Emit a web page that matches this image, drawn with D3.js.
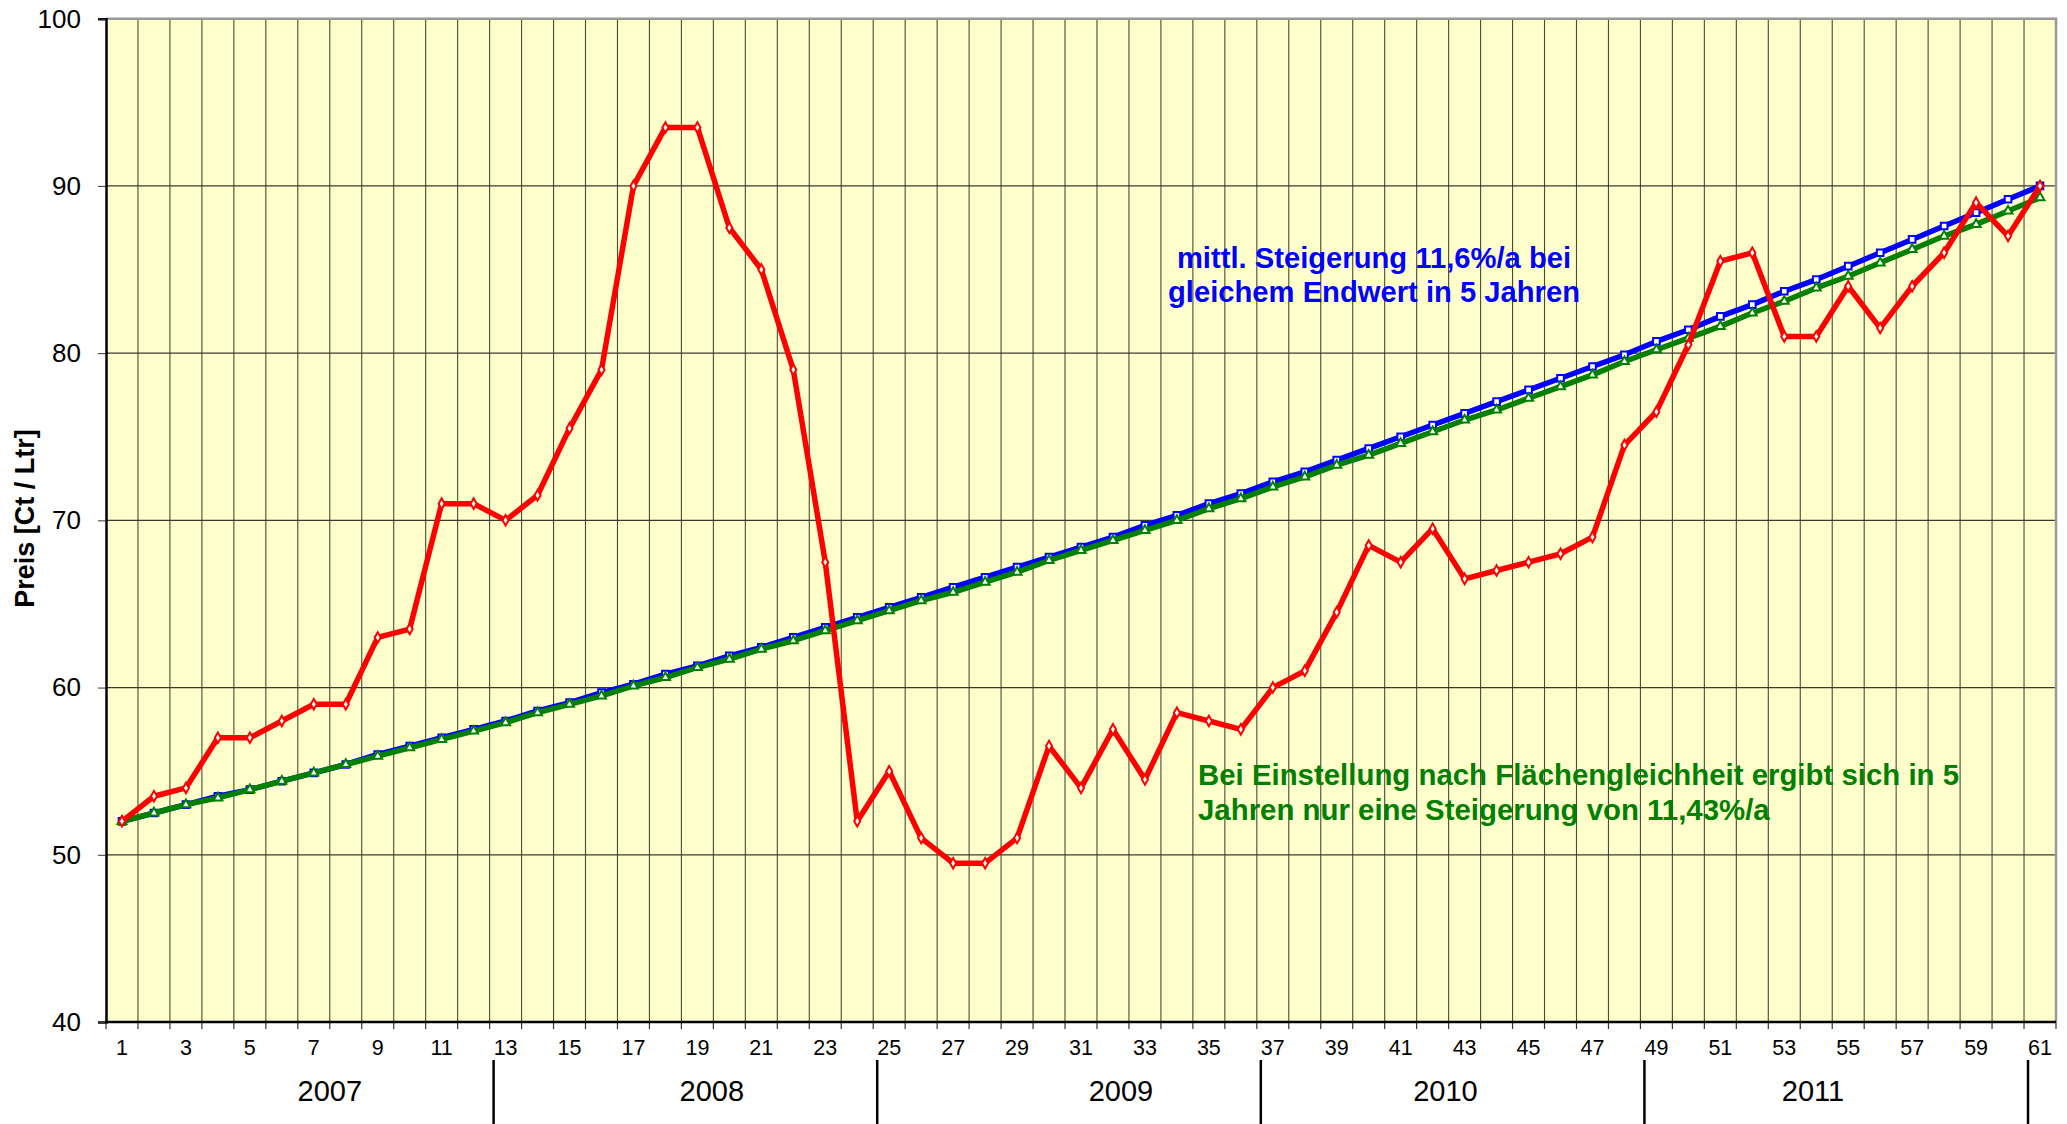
<!DOCTYPE html>
<html>
<head>
<meta charset="utf-8">
<script src="https://cdn.jsdelivr.net/npm/d3@7"></script>
<style>
  body { margin: 0; background: #fff; }
  text { font-family: "Liberation Sans", Arial, sans-serif; }
</style>
</head>
<body>
<svg width="2067" height="1124"></svg>
<script>
// Monate 1..61 (Jan 2007 .. Jan 2012)
const months = d3.range(1, 62);

// Heizoelpreis real (Ct / Ltr)
const preis = [
  52, 53.5, 54, 57, 57, 58, 59, 59, 63, 63.5, 71, 71,
  70, 71.5, 75.5, 79, 90, 93.5, 93.5, 87.5, 85, 79, 67.5, 52,
  55, 51, 49.5, 49.5, 51, 56.5, 54, 57.5, 54.5, 58.5, 58, 57.5,
  60, 61, 64.5, 68.5, 67.5, 69.5, 66.5, 67, 67.5, 68, 69, 74.5,
  76.5, 80.5, 85.5, 86, 81, 81, 84, 81.5, 84, 86, 89, 87,
  90
];

// mittlere Steigerung 11,6 %/a
const steigBlau = [
  52.0, 52.5, 53.0, 53.5, 53.9, 54.4, 54.9, 55.4, 56.0, 56.5, 57.0, 57.5,
  58.0, 58.6, 59.1, 59.7, 60.2, 60.8, 61.3, 61.9, 62.4, 63.0, 63.6, 64.2,
  64.8, 65.4, 66.0, 66.6, 67.2, 67.8, 68.4, 69.0, 69.7, 70.3, 71.0, 71.6,
  72.3, 72.9, 73.6, 74.3, 75.0, 75.7, 76.4, 77.1, 77.8, 78.5, 79.2, 79.9,
  80.7, 81.4, 82.2, 82.9, 83.7, 84.4, 85.2, 86.0, 86.8, 87.6, 88.4, 89.2,
  90.0
];

// Flaechengleichheit 11,43 %/a
const steigGruen = [
  52.0, 52.5, 53.0, 53.4, 53.9, 54.4, 54.9, 55.4, 55.9, 56.4, 56.9, 57.4,
  57.9, 58.5, 59.0, 59.5, 60.1, 60.6, 61.2, 61.7, 62.3, 62.8, 63.4, 64.0,
  64.6, 65.2, 65.7, 66.3, 66.9, 67.6, 68.2, 68.8, 69.4, 70.0, 70.7, 71.3,
  72.0, 72.6, 73.3, 73.9, 74.6, 75.3, 76.0, 76.6, 77.3, 78.0, 78.7, 79.5,
  80.2, 80.9, 81.6, 82.4, 83.1, 83.9, 84.6, 85.4, 86.2, 87.0, 87.7, 88.5,
  89.3
];

const yTicks = [40, 50, 60, 70, 80, 90, 100];
const xTickLabels = months.filter(m => m % 2 === 1);
const years = ['2007', '2008', '2009', '2010', '2011'];
const yearStart = [13, 25, 37, 49, 61]; // Trennstriche vor diesen Monaten

const textBlau = ['mittl. Steigerung 11,6%/a bei', 'gleichem Endwert in 5 Jahren'];
const textGruen = ['Bei Einstellung nach Flächengleichheit ergibt sich in 5',
  'Jahren nur eine Steigerung von 11,43%/a'];

const svg = d3.select('svg');
const pL = 106, pR = 2056, pT = 18.7, pB = 1022;

const x = d3.scaleBand().domain(months).range([pL, pR]);
const y = d3.scaleLinear().domain([40, 100]).range([pB, pT]);
const cx = m => x(m) + x.bandwidth() / 2;

// Hintergrund
svg.append('rect')
  .attr('x', pL).attr('y', pT)
  .attr('width', pR - pL).attr('height', pB - pT)
  .attr('fill', '#ffffcc');

// vertikale Gitterlinien an den Kategoriegrenzen
svg.append('g').selectAll('line')
  .data(months.slice(1))
  .join('line')
  .attr('x1', d => x(d)).attr('x2', d => x(d))
  .attr('y1', pT).attr('y2', pB)
  .attr('stroke', '#4a4a3a').attr('stroke-width', 1.1);

// horizontale Gitterlinien
svg.append('g').selectAll('line')
  .data(yTicks.slice(1, -1))
  .join('line')
  .attr('x1', pL).attr('x2', pR)
  .attr('y1', d => y(d)).attr('y2', d => y(d))
  .attr('stroke', '#3a3a30').attr('stroke-width', 1.2);

// Rahmen oben / rechts
svg.append('path')
  .attr('d', `M${pL},${pT}H${pR}V${pB}`)
  .attr('fill', 'none').attr('stroke', '#999').attr('stroke-width', 2.5);

// y-Achse
const yAxis = svg.append('g')
  .attr('transform', `translate(${pL},0)`)
  .call(d3.axisLeft(y).tickValues(yTicks).tickSize(8).tickPadding(17));
yAxis.select('.domain').attr('stroke', '#000').attr('stroke-width', 2.5);
yAxis.selectAll('.tick line').attr('stroke', '#333');
yAxis.selectAll('text')
  .attr('font-size', 26).attr('fill', '#000')
  .style('font-family', '"Liberation Sans", Arial, sans-serif');

// x-Achse
svg.append('g').selectAll('line')
  .data(months.concat([62]))
  .join('line')
  .attr('x1', d => d === 62 ? pR : x(d))
  .attr('x2', d => d === 62 ? pR : x(d))
  .attr('y1', pB).attr('y2', pB + 7)
  .attr('stroke', '#333').attr('stroke-width', 1.2);

const xAxis = svg.append('g')
  .attr('transform', `translate(0,${pB})`)
  .call(d3.axisBottom(x).tickValues(xTickLabels).tickSize(0).tickPadding(18));
xAxis.select('.domain').remove();
xAxis.selectAll('text')
  .attr('font-size', 21.5).attr('fill', '#000')
  .style('font-family', '"Liberation Sans", Arial, sans-serif');

svg.append('line')
  .attr('x1', pL - 1).attr('x2', pR)
  .attr('y1', pB).attr('y2', pB)
  .attr('stroke', '#000').attr('stroke-width', 2.5);

// Jahre
svg.append('g').selectAll('line')
  .data(yearStart)
  .join('line')
  .attr('x1', d => x(d) + 4).attr('x2', d => x(d) + 4)
  .attr('y1', 1060).attr('y2', 1124)
  .attr('stroke', '#000').attr('stroke-width', 2.5);

// Lage der Jahresbeschriftung (in Monaten, wie im Original leicht versetzt)
const yearLabelAt = [7.5, 19.45, 32.25, 42.4, 53.9];
svg.append('g').selectAll('text')
  .data(years)
  .join('text')
  .attr('x', (d, i) => pL + (yearLabelAt[i] - 0.5) * x.bandwidth())
  .attr('y', 1101)
  .attr('text-anchor', 'middle')
  .attr('font-size', 29)
  .text(d => d);

// y-Titel
svg.append('text')
  .attr('transform', 'translate(34,518.5) rotate(-90)')
  .attr('text-anchor', 'middle')
  .attr('font-size', 27).attr('font-weight', 'bold')
  .text('Preis [Ct / Ltr]');

// Linien
const line = d3.line()
  .x((d, i) => cx(months[i]))
  .y(d => y(d));

function drawSeries(values, color, symbol, size) {
  const g = svg.append('g');
  g.append('path')
    .attr('d', line(values))
    .attr('fill', 'none')
    .attr('stroke', color)
    .attr('stroke-width', 5.5)
    .attr('stroke-linejoin', 'round');
  g.selectAll('path.m')
    .data(values)
    .join('path')
    .attr('class', 'm')
    .attr('transform', (d, i) => `translate(${cx(months[i])},${y(d)})`)
    .attr('d', d3.symbol().type(symbol).size(size))
    .attr('fill', '#fff')
    .attr('stroke', color)
    .attr('stroke-width', 2);
}

drawSeries(steigBlau, '#0000ff', d3.symbolSquare, 44);
drawSeries(steigGruen, '#008000', d3.symbolTriangle, 34);
drawSeries(preis, '#ff0000', d3.symbolDiamond, 32);

// Beschriftungen
svg.append('text')
  .attr('x', 1374).attr('y', 268)
  .attr('text-anchor', 'middle')
  .attr('font-size', 29.2).attr('font-weight', 'bold')
  .attr('fill', '#0000ff')
  .selectAll('tspan')
  .data(textBlau)
  .join('tspan')
  .attr('x', 1374)
  .attr('dy', (d, i) => i === 0 ? 0 : 34)
  .text(d => d);

svg.append('text')
  .attr('x', 1198).attr('y', 785)
  .attr('font-size', 29.4).attr('font-weight', 'bold')
  .attr('fill', '#008000')
  .selectAll('tspan')
  .data(textGruen)
  .join('tspan')
  .attr('x', 1198)
  .attr('dy', (d, i) => i === 0 ? 0 : 35)
  .text(d => d);
</script>
</body>
</html>
